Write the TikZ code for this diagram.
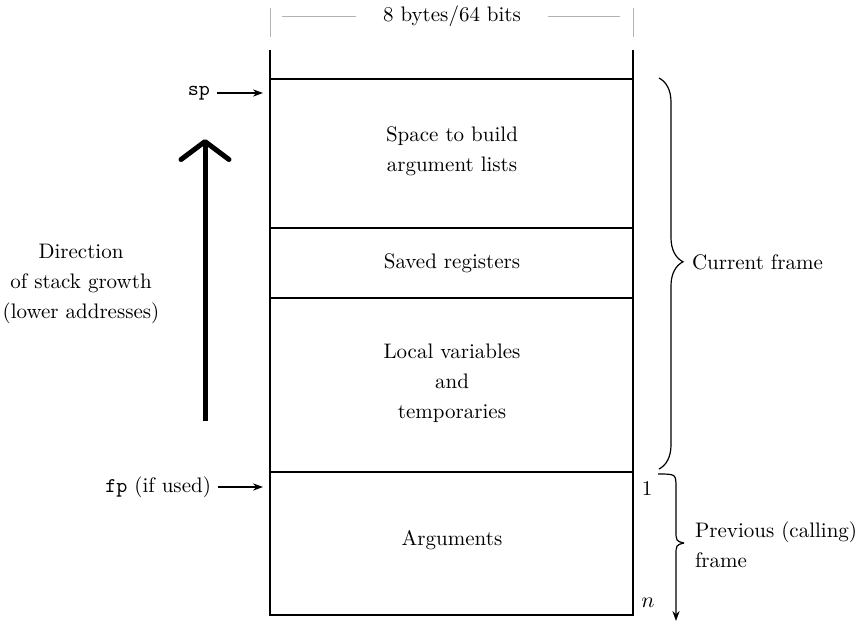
\documentclass[tikz,border=0pt]{standalone}
\usetikzlibrary{arrows.meta,decorations.pathreplacing}

\begin{document}
\begin{tikzpicture}[x=0.5pt,y=-0.5pt,font=\fontsize{10.5}{15}\selectfont,
  box/.style={line width=1pt},
  dim/.style={gray!60,line width=0.5pt},
  ptr/.style={line width=0.6pt,-{Stealth[length=5pt,width=3.6pt]}},
  brc/.style={line width=0.6pt}]
  \useasboundingbox (0,0) rectangle (864,623);
  % slot width
  \node (width) at (452,16) {8 bytes/64 bits};
  \draw[dim] (270,8) -- (270,37);
  \draw[dim] (633,8) -- (633,37);
  \draw[dim] (282,16) -- ([xshift=-10pt]width.west);
  \draw[dim] ([xshift=10pt]width.east) -- (620,16);
  % the frame
  \draw[box] (270,50) -- (270,615) -- (633,615) -- (633,50);
  \foreach \y in {79,228,298,472} \draw[box] (270,\y) -- (633,\y);
  \node[align=center] (arglist) at (452,151) {Space to build\\argument lists};
  \node (saved) at (452,263) {Saved registers};
  \node[align=center] (locals) at (452,383) {Local variables\\and\\temporaries};
  \node (args) at (452,540) {Arguments};
  \node (one) at (647,488) {1};
  \node (en) at (648,603) {$n$};
  % pointers
  \coordinate (sptip) at (263,93);
  \coordinate (fptip) at (263,487);
  \node[anchor=east] (sp) at (217,93) {\texttt{sp}};
  \node[anchor=east] (fp) at (218,487) {\texttt{fp} (if used)};
  \draw[ptr] (sp.east) -- (sptip);
  \draw[ptr] (fp.east) -- (fptip);
  % growth
  \coordinate (growlo) at (205,421);
  \coordinate (growhi) at (205,139);
  \draw[line width=2.5pt,-{Straight Barb[length=9pt,width=24pt,round]}] (growlo) -- (growhi);
  \node[align=center] (grow) at (81,284) {Direction\\of stack growth\\(lower addresses)};
  % frames
  \draw[brc,decorate,decoration={brace,amplitude=12pt,aspect=0.47}] (659,78) -- (659,469);
  \node[anchor=west] (cur) at (685,262) {Current frame};
  \coordinate (prevtop) at (658,474);
  \coordinate (prevtip) at (684,543);
  \coordinate (prevend) at (676,621);
  \draw[brc] (prevtop) .. controls (676,474) .. (676,488) -- (676,530)
    .. controls (676,541) .. (prevtip);
  \draw[ptr] (prevtip) .. controls (676,545) .. (676,556) -- (prevend);
  \node[anchor=west,align=left] (prev) at (688,545) {Previous (calling)\\frame};
\end{tikzpicture}
\end{document}
